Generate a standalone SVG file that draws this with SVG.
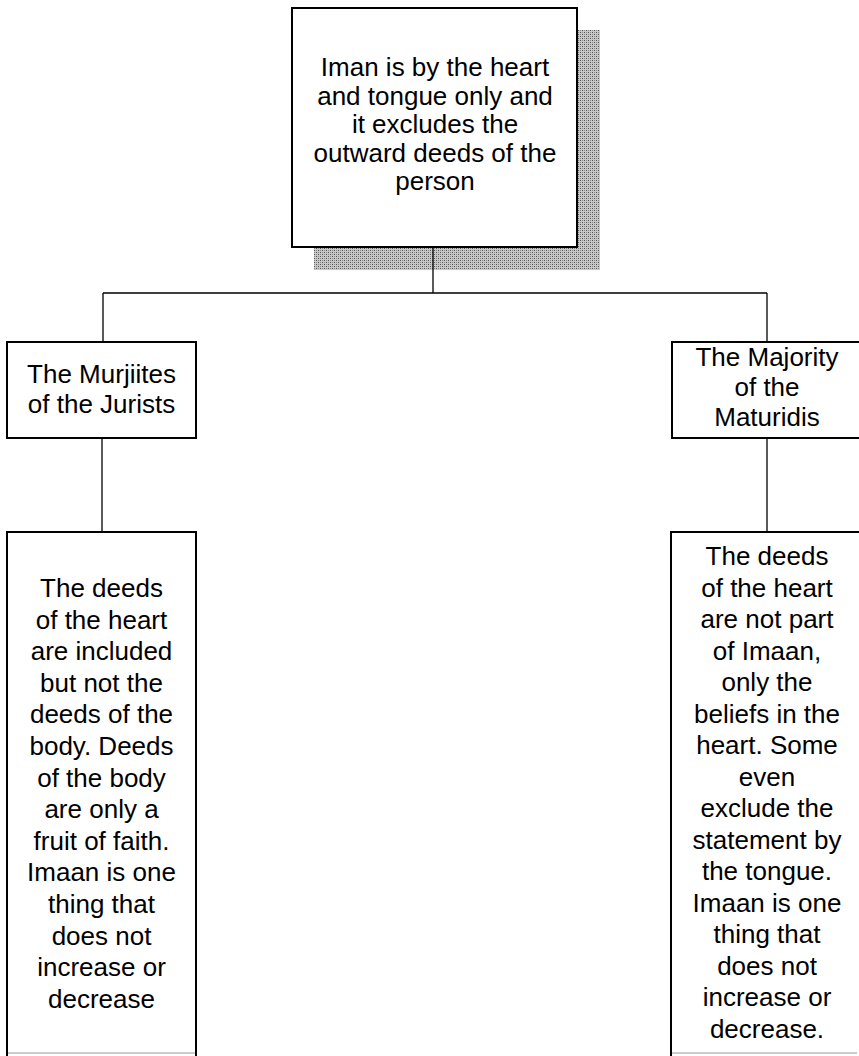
<svg xmlns="http://www.w3.org/2000/svg" width="859" height="1056" viewBox="0 0 859 1056">
<defs>
<pattern id="dither" width="4" height="4" patternUnits="userSpaceOnUse">
<rect width="4" height="4" fill="#c8c8c8"/>
<rect x="0" y="0" width="1" height="1" fill="#555"/>
<rect x="2" y="2" width="1" height="1" fill="#555"/>
<rect x="2" y="0" width="1" height="1" fill="#888"/>
<rect x="0" y="2" width="1" height="1" fill="#888"/>
</pattern>
</defs>
<style>
.box{fill:#fff;stroke:#000;stroke-width:2}
.conn{fill:none;stroke:#000;stroke-width:1.3}
.faint{fill:none;stroke:#bbb;stroke-width:1.5}
text{font-family:"Liberation Sans",Arial,sans-serif;font-size:26px;fill:#000;text-anchor:middle}
</style>
<rect width="859" height="1056" fill="#fff"/>
<g id="connectors">
<line class="conn" x1="433" y1="247" x2="433" y2="293"/>
<line class="conn" x1="103" y1="293" x2="767" y2="293"/>
<line class="conn" x1="103" y1="293" x2="103" y2="342"/>
<line class="conn" x1="767" y1="293" x2="767" y2="342"/>
<line class="conn" x1="102" y1="438" x2="102" y2="532"/>
<line class="conn" x1="767" y1="438" x2="767" y2="532"/>
</g>
<g id="node-top">
<path d="M314 30 H600 V270 H314 Z" fill="url(#dither)"/>
<line class="conn" x1="433" y1="247" x2="433" y2="270"/>
<rect class="box" x="292" y="8" width="285" height="239"/>
<text x="435" y="76">Iman is by the heart</text>
<text x="435" y="104.5">and tongue only and</text>
<text x="435" y="133">it excludes the</text>
<text x="435" y="161.5">outward deeds of the</text>
<text x="435" y="190">person</text>
</g>
<g id="node-murjiites">
<rect class="box" x="7" y="342" width="189" height="96"/>
<text x="101.5" y="383">The Murjiites</text>
<text x="101.5" y="413">of the Jurists</text>
</g>
<g id="node-majority">
<rect class="box" x="672" y="342" width="200" height="96"/>
<text x="767" y="366">The Majority</text>
<text x="767" y="396">of the</text>
<text x="767" y="426">Maturidis</text>
</g>
<g id="node-murjiites-detail">
<rect class="box" x="7" y="532" width="189" height="540"/>
<line class="faint" x1="8" y1="1053" x2="195" y2="1053"/>
<text x="101.5" y="597">The deeds</text>
<text x="101.5" y="628.6">of the heart</text>
<text x="101.5" y="660.2">are included</text>
<text x="101.5" y="691.8">but not the</text>
<text x="101.5" y="723.4">deeds of the</text>
<text x="101.5" y="755">body. Deeds</text>
<text x="101.5" y="786.6">of the body</text>
<text x="101.5" y="818.2">are only a</text>
<text x="101.5" y="849.8">fruit of faith.</text>
<text x="101.5" y="881.4">Imaan is one</text>
<text x="101.5" y="913">thing that</text>
<text x="101.5" y="944.6">does not</text>
<text x="101.5" y="976.2">increase or</text>
<text x="101.5" y="1007.8">decrease</text>
</g>
<g id="node-majority-detail">
<rect class="box" x="671" y="532" width="200" height="540"/>
<line class="faint" x1="672" y1="1053" x2="857" y2="1053"/>
<text x="767" y="565">The deeds</text>
<text x="767" y="596.5">of the heart</text>
<text x="767" y="628">are not part</text>
<text x="767" y="659.5">of Imaan,</text>
<text x="767" y="691">only the</text>
<text x="767" y="722.5">beliefs in the</text>
<text x="767" y="754">heart. Some</text>
<text x="767" y="785.5">even</text>
<text x="767" y="817">exclude the</text>
<text x="767" y="848.5">statement by</text>
<text x="767" y="880">the tongue.</text>
<text x="767" y="911.5">Imaan is one</text>
<text x="767" y="943">thing that</text>
<text x="767" y="974.5">does not</text>
<text x="767" y="1006">increase or</text>
<text x="767" y="1037.5">decrease.</text>
</g>
</svg>
